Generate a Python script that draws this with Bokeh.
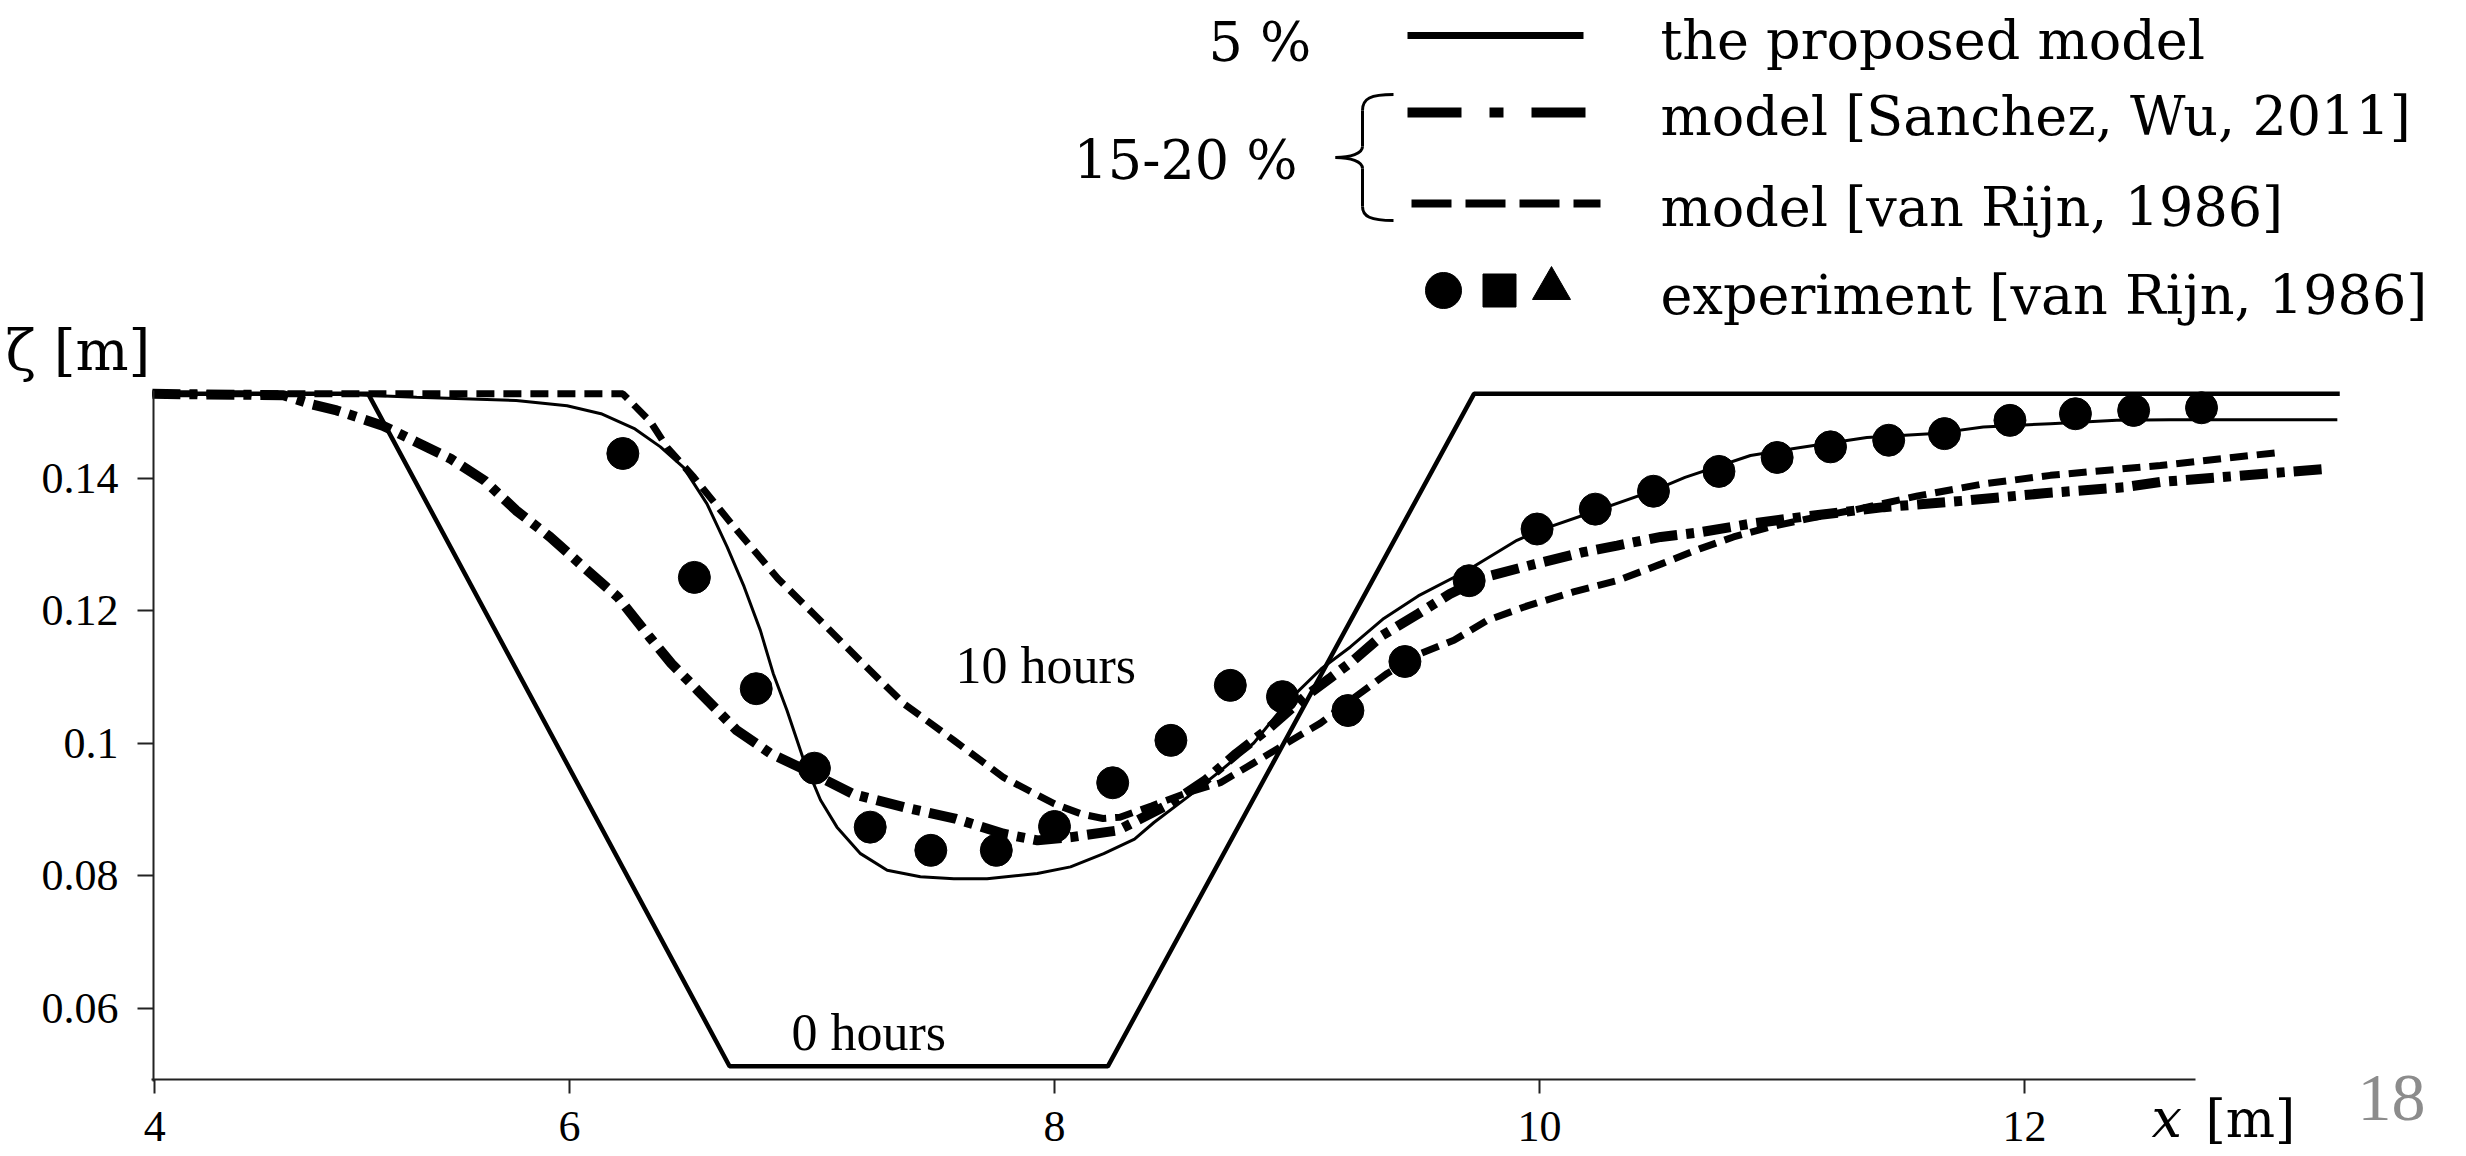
from bokeh.plotting import figure
from bokeh.models import FixedTicker, Label, Range1d
from bokeh.embed import file_html
from bokeh.resources import INLINE

# ---------------- data ----------------
x_axis_start = 4.29    # where the drawn x axis begins (labelled "4" in the original)
x_axis_end = 12.705
y_axis_top = 0.1532

x_ticks = [x_axis_start, 6, 8, 10, 12]
x_tick_labels = ["4", "6", "8", "10", "12"]
y_ticks = [0.06, 0.08, 0.10, 0.12, 0.14]
y_tick_labels = ["0.06", "0.08", "0.1", "0.12", "0.14"]

# initial trench profile (0 hours)
initial_x = [4.28, 5.17, 6.66, 8.22, 9.73, 13.30]
initial_y = [0.1527, 0.1527, 0.0512, 0.0512, 0.1527, 0.1527]

# the proposed model (10 hours)
proposed_x = [4.28, 5.00, 5.37, 5.78, 5.99, 6.13, 6.27, 6.375, 6.47, 6.567, 6.65, 6.72,
              6.787, 6.84, 6.897, 6.966, 7.035, 7.103, 7.20, 7.31, 7.447, 7.585, 7.722,
              7.929, 8.066, 8.203, 8.33, 8.41, 8.547, 8.684, 8.822, 8.96, 9.10, 9.22,
              9.358, 9.50, 9.70, 9.907, 10.0, 10.237, 10.47, 10.60, 10.87, 11.076, 11.35,
              11.63, 11.83, 12.107, 12.38, 12.60, 13.29]
proposed_y = [0.1527, 0.1527, 0.1522, 0.1517, 0.1509, 0.1497, 0.1474, 0.1447, 0.1416,
              0.1361, 0.1296, 0.1236, 0.1170, 0.1105, 0.1049, 0.0974, 0.0914, 0.0873,
              0.0833, 0.0808, 0.0798, 0.0795, 0.0795, 0.0803, 0.0813, 0.0833, 0.0855,
              0.0880, 0.0918, 0.0958, 0.1000, 0.1062, 0.1112, 0.1145, 0.1188, 0.1222,
              0.1260, 0.1306, 0.1321, 0.1351, 0.1381, 0.1401, 0.1434, 0.1446, 0.1461,
              0.1467, 0.1477, 0.1482, 0.1487, 0.1488, 0.1488]

# model [Sanchez, Wu, 2011]
sanchez_x = [4.28, 4.82, 4.93, 5.04, 5.23, 5.37, 5.51, 5.65, 5.78, 5.92, 6.06, 6.20, 6.33,
             6.42, 6.53, 6.69, 6.83, 6.98, 7.17, 7.38, 7.59, 7.79, 7.93, 8.07, 8.26, 8.48,
             8.62, 8.75, 8.89, 9.03, 9.14, 9.23, 9.35, 9.50, 9.63, 9.77, 9.98, 10.18,
             10.32, 10.50, 10.66, 10.87, 11.10, 11.42, 11.76, 12.08, 12.41, 12.56, 13.25]
sanchez_y = [0.1527, 0.1525, 0.1512, 0.1502, 0.1479, 0.1454, 0.1429, 0.1396, 0.1351,
             0.1311, 0.1265, 0.1220, 0.1160, 0.1120, 0.1079, 0.1019, 0.0984, 0.0958,
             0.0923, 0.0903, 0.0886, 0.0863, 0.0853, 0.0858, 0.0868, 0.0909, 0.0943,
             0.0984, 0.1024, 0.1069, 0.1099, 0.1124, 0.1162, 0.1195, 0.1225, 0.1250,
             0.1270, 0.1288, 0.1298, 0.1311, 0.1318, 0.1331, 0.1342, 0.1356, 0.1366,
             0.1377, 0.1386, 0.1394, 0.1414]

# model [van Rijn, 1986]
vanrijn_x = [4.28, 6.22, 6.334, 6.403, 6.513, 6.67, 6.86, 7.02, 7.21, 7.38, 7.585, 7.79,
             8.00, 8.11, 8.20, 8.27, 8.40, 8.547, 8.684, 8.822, 8.959, 9.097, 9.234,
             9.372, 9.509, 9.647, 9.784, 9.95, 10.14, 10.32, 10.50, 10.66, 10.80, 10.95,
             11.10, 11.30, 11.56, 11.83, 12.107, 12.56, 13.06]
vanrijn_y = [0.1527, 0.1527, 0.1485, 0.1446, 0.1401, 0.1330, 0.1248, 0.1190, 0.1120,
             0.1059, 0.1004, 0.0948, 0.0908, 0.0893, 0.0886, 0.0888, 0.0905, 0.0925,
             0.0940, 0.0970, 0.1000, 0.1030, 0.1068, 0.1105, 0.1135, 0.1155, 0.1185,
             0.1207, 0.1228, 0.1245, 0.1270, 0.1293, 0.1311, 0.1326, 0.1338, 0.1352,
             0.1373, 0.1391, 0.1404, 0.1419, 0.1439]

# experiment [van Rijn, 1986]
exp_x = [6.22, 6.515, 6.77, 7.01, 7.24, 7.49, 7.76, 8.00, 8.24, 8.48, 8.725, 8.94, 9.21,
         9.445, 9.71, 9.99, 10.23, 10.47, 10.74, 10.98, 11.20, 11.44, 11.67, 11.94,
         12.21, 12.45, 12.73]
exp_y = [0.1437, 0.1250, 0.1082, 0.0962, 0.0873, 0.0838, 0.0838, 0.0874, 0.0940, 0.1004,
         0.1087, 0.1070, 0.1049, 0.1123, 0.1245, 0.1323, 0.1353, 0.1380, 0.1410, 0.1431,
         0.1447, 0.1457, 0.1467, 0.1487, 0.1497, 0.1502, 0.1506]

legend_labels = ["the proposed model", "model [Sanchez, Wu, 2011]",
                 "model [van Rijn, 1986]", "experiment [van Rijn, 1986]"]

# ---------------- layout helpers (page pixel -> data) ----------------
W, H = 2464, 1154
def dx(px):
    return 6 + (px - 569) / 242.5
def dy(py):
    return 0.14 + (477.5 - py) / 6625.0

SERIF = "Liberation Serif"
SLIDE = "DejaVu Serif"

p = figure(width=W, height=H, output_backend="svg", toolbar_location=None,
           x_range=Range1d(dx(0), dx(W)), y_range=Range1d(dy(H), dy(0)),
           min_border=0, background_fill_color="white", border_fill_color="white")
p.outline_line_color = None
p.grid.visible = False

xa = p.xaxis[0]
xa.fixed_location = dy(1079)
xa.ticker = FixedTicker(ticks=x_ticks)
xa.major_label_overrides = {t: l for t, l in zip(x_ticks, x_tick_labels)}
xa.bounds = (dx(151), x_axis_end)
ya = p.yaxis[0]
ya.fixed_location = dx(153)
ya.ticker = FixedTicker(ticks=y_ticks)
ya.major_label_overrides = {t: l for t, l in zip(y_ticks, y_tick_labels)}
ya.bounds = (dy(1081), y_axis_top)
for ax in (xa, ya):
    ax.axis_line_width = 2
    ax.axis_line_color = "#222222"
    ax.major_tick_line_color = "#222222"
    ax.major_tick_line_width = 2
    ax.major_tick_in = 0
    ax.minor_tick_line_color = None
    ax.major_label_text_font = SERIF
    ax.major_label_text_color = "black"
xa.major_tick_out = 14
xa.major_label_text_font_size = "44px"
xa.major_label_standoff = 18
ya.major_tick_out = 16
ya.major_label_text_font_size = "44px"
ya.major_label_standoff = 19

# ---------------- curves ----------------
p.line(initial_x, initial_y, line_color="black", line_width=4.5)
p.line(proposed_x, proposed_y, line_color="black", line_width=3)
p.line(vanrijn_x, vanrijn_y, line_color="black", line_width=7, line_dash="18 9")
p.line(sanchez_x, sanchez_y, line_color="black", line_width=10, line_dash="28 9 8 9")
p.scatter(exp_x, exp_y, marker="circle", size=32, fill_color="black", line_color="black")

# ---------------- texts ----------------
def lab(px, py, text, font=SERIF, size="48px", style="normal", color="black"):
    p.add_layout(Label(x=dx(px), y=dy(py), text=text, text_font=font, text_font_size=size,
                       text_font_style=style, text_color=color, text_align="left",
                       text_baseline="middle"))

lab(955, 665, "10 hours", size="52px")
lab(791, 1032, "0 hours", size="52px")
lab(5, 350, "ζ [m]", font=SLIDE, size="56px")
lab(2151, 1118, "x", font=SLIDE, size="54px", style="italic")
lab(2205, 1118, "[m]", font=SLIDE, size="52px")
lab(2357, 1097, "18", font=SERIF, size="68px", color="#8c8c8c")

# ---------------- legend ----------------
text_left = 1660
rows = [40, 116, 207, 295]
for r, t in zip(rows, legend_labels):
    lab(text_left, r, t, font=SLIDE, size="54px")
lab(1208, 42, "5 %", font=SLIDE, size="54px")
lab(1073, 160, "15-20 %", font=SLIDE, size="54px")

p.line([dx(1407), dx(1583)], [dy(35), dy(35)], line_color="black", line_width=7)
p.line([dx(1407), dx(1592)], [dy(112), dy(112)], line_color="black", line_width=10,
       line_dash="54 28 14 28")
p.line([dx(1411), dx(1600)], [dy(203), dy(203)], line_color="black", line_width=8,
       line_dash="40 14")
p.scatter([dx(1443)], [dy(290)], marker="circle", size=36, color="black")
p.scatter([dx(1499)], [dy(290)], marker="square", size=33, color="black")
p.scatter([dx(1551)], [dy(288)], marker="triangle", size=38, color="black")

# curly brace grouping the two literature models
bz = dict(line_color="black", line_width=3)
p.bezier(x0=[dx(1393), dx(1362), dx(1335), dx(1362)],
         y0=[dy(94), dy(146), dy(157), dy(206)],
         x1=[dx(1362), dx(1335), dx(1362), dx(1393)],
         y1=[dy(110), dy(157), dy(168), dy(220)],
         cx0=[dx(1370), dx(1362), dx(1350), dx(1362)],
         cy0=[dy(94), dy(153), dy(157), dy(216)],
         cx1=[dx(1362), dx(1350), dx(1362), dx(1370)],
         cy1=[dy(98), dy(157), dy(161), dy(220)], **bz)
p.segment(x0=[dx(1362), dx(1362)], y0=[dy(110), dy(168)],
          x1=[dx(1362), dx(1362)], y1=[dy(146), dy(206)], **bz)

open("out.html", "w").write(file_html(p, INLINE))
